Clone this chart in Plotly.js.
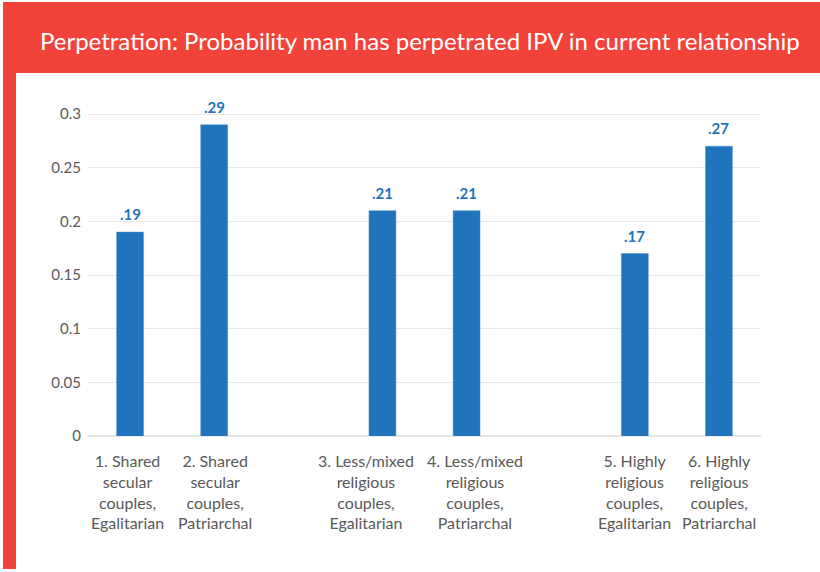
<!DOCTYPE html>
<html>
<head>
<meta charset="utf-8">
<script src="https://cdn.plot.ly/plotly-3.0.1.min.js"></script>
<style>
  html, body { margin: 0; padding: 0; background: #fff; }
  #frame { position: relative; width: 820px; height: 572px; overflow: hidden; }
  #band { position: absolute; left: 3px; top: 2px; width: 817px; height: 71px; background: #f2433b; }
  #side { position: absolute; left: 3px; top: 73px; width: 13px; height: 496px; background: #f2433b; }
  #chart { position: absolute; left: 0; top: 0; width: 820px; height: 572px; }
</style>
</head>
<body>
<div id="frame">
  <div id="band"></div>
  <div id="side"></div>
  <div id="chart"></div>
</div>
<script>
// groups with a blank slot between each pair
const categories = ["g1", "g2", "gap1", "g3", "g4", "gap2", "g5", "g6"];
const categoryLabels = [
  "1. Shared<br>secular<br>couples,<br>Egalitarian",
  "2. Shared<br>secular<br>couples,<br>Patriarchal",
  "",
  "3. Less/mixed<br>religious<br>couples,<br>Egalitarian",
  "4. Less/mixed<br>religious<br>couples,<br>Patriarchal",
  "",
  "5. Highly<br>religious<br>couples,<br>Egalitarian",
  "6. Highly<br>religious<br>couples,<br>Patriarchal"
];
const probability = [0.19, 0.29, null, 0.21, 0.21, null, 0.17, 0.27];
const yTicks = [0, 0.05, 0.1, 0.15, 0.2, 0.25, 0.3];
const yTickText = ["0", "0.05", "0.1", "0.15", "0.2", "0.25", "0.3"];

const labels = probability.map(v => v === null ? "" : v.toFixed(2).replace(/^0/, ""));

// the middle pair of labels is nudged apart so they don't collide
const labelNudge = [-3, 1, 0, -16, 8, 0, 0, 0];

const annotations = [];
categories.forEach((c, i) => {
  if (categoryLabels[i]) {
    annotations.push({
      x: c, y: 0, xref: 'x', yref: 'y',
      text: categoryLabels[i], showarrow: false,
      xanchor: 'center', yanchor: 'top', align: 'center',
      xshift: labelNudge[i], yshift: -13,
      font: { family: 'Lato', size: 16, color: '#595959' }
    });
  }
  if (probability[i] !== null) {
    annotations.push({
      x: c, y: probability[i], xref: 'x', yref: 'y',
      text: labels[i], showarrow: false,
      xanchor: 'center', yanchor: 'bottom', yshift: 7,
      font: { family: 'Lato', size: 15, color: '#1f74bb', weight: 700 }
    });
  }
});

Plotly.newPlot('chart', [{
  x: categories,
  y: probability,
  type: 'bar',
  marker: { color: '#1f74bb', line: { color: '#4d8fcc', width: 0.5 } },
  hoverinfo: 'skip'
}], {
  width: 820,
  height: 572,
  paper_bgcolor: 'rgba(0,0,0,0)',
  plot_bgcolor: 'rgba(0,0,0,0)',
  margin: { l: 88, r: 59, t: 113, b: 136 },
  bargap: 0.68,
  showlegend: false,
  annotations: annotations,
  title: {
    text: 'Perpetration: Probability man has perpetrated IPV in current relationship',
    font: { family: 'Lato', size: 24, color: '#ffffff' },
    xref: 'container', x: 0.512, xanchor: 'center',
    yref: 'container', y: 0.927, yanchor: 'middle'
  },
  xaxis: {
    type: 'category',
    showticklabels: false,
    showgrid: false,
    ticks: ''
  },
  yaxis: {
    range: [0, 0.301],
    tickvals: yTicks,
    ticktext: yTickText,
    tickfont: { family: 'Lato', size: 15, color: '#595959' },
    gridcolor: '#e8e8e8',
    gridwidth: 1,
    zeroline: true,
    zerolinecolor: '#e6e6e6',
    zerolinewidth: 2,
    ticks: '',
    ticklabelstandoff: 6
  }
}, { displayModeBar: false, staticPlot: true });
</script>
</body>
</html>
